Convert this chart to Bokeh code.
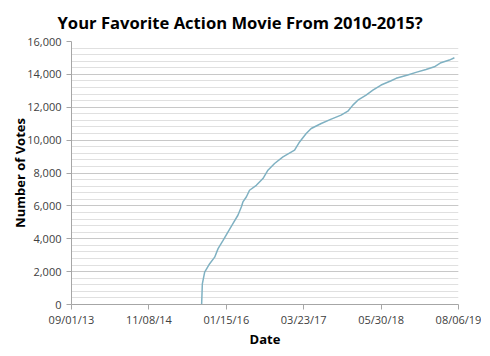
from datetime import datetime
from bokeh.plotting import figure
from bokeh.models import Range1d, FixedTicker, SingleIntervalTicker, DatetimeTickFormatter, NumeralTickFormatter, ColumnDataSource
from bokeh.embed import file_html
from bokeh.resources import INLINE

dates = ["2015-08-30", "2015-09-03", "2015-09-16", "2015-10-14", "2015-11-11", "2015-11-30",
         "2015-12-28", "2016-01-24", "2016-02-21", "2016-03-20", "2016-04-08", "2016-04-17",
         "2016-05-06", "2016-05-24", "2016-07-01", "2016-08-07", "2016-09-04", "2016-10-11",
         "2016-11-27", "2017-01-31", "2017-02-28", "2017-04-06", "2017-05-04", "2017-06-29",
         "2017-08-24", "2017-10-18", "2017-11-25", "2017-12-23", "2018-01-20", "2018-03-07",
         "2018-04-14", "2018-05-30", "2018-07-25", "2018-08-22", "2018-10-26", "2018-12-11",
         "2019-02-05", "2019-03-24", "2019-04-30", "2019-06-16", "2019-07-14"]
votes = [0, 1260, 1970, 2480, 2880, 3400, 3900, 4410, 4920, 5430, 5930, 6240,
         6540, 6950, 7250, 7660, 8170, 8580, 8980, 9390, 9890, 10400, 10710, 11010,
         11280, 11520, 11760, 12130, 12430, 12740, 13040, 13350, 13610, 13760, 13960, 14120,
         14300, 14460, 14710, 14870, 15010]
tick_dates = ["2013-09-01", "2014-11-08", "2016-01-15", "2017-03-23", "2018-05-30", "2019-08-06"]

def to_dt(s):
    return datetime.strptime(s, "%Y-%m-%d")

def to_ms(s):
    return (to_dt(s) - datetime(1970, 1, 1)).total_seconds() * 1000.0

src = ColumnDataSource(dict(x=[to_dt(d) for d in dates], y=votes))

p = figure(frame_width=387, frame_height=263, output_backend="svg", toolbar_location=None,
           x_axis_type="datetime",
           x_range=Range1d(to_dt(tick_dates[0]), to_dt(tick_dates[-1])),
           y_range=Range1d(0, 16000),
           min_border_left=0, min_border_right=23, min_border_top=0, min_border_bottom=0)
p.margin = (0, 0, 0, 8)

p.title.text = "Your Favorite Action Movie From 2010-2015?"
p.title.align = "left"
p.title.offset = -14
p.title.text_font = "Open Sans"
p.title.text_font_size = "16.6px"
p.title.text_font_style = "bold"
p.title.text_color = "#000000"
p.title.standoff = 16

p.line("x", "y", source=src, line_color="#7FB1C2", line_width=1.5)

p.outline_line_color = None
p.background_fill_color = "white"
p.border_fill_color = "white"

p.xgrid.grid_line_color = None
p.yaxis.ticker = SingleIntervalTicker(interval=2000, num_minor_ticks=5)
p.ygrid.grid_line_color = "#c8c8c8"
p.ygrid.minor_grid_line_color = "#e0e0e0"
p.yaxis.formatter = NumeralTickFormatter(format="0,0")

p.xaxis.ticker = FixedTicker(ticks=[to_ms(d) for d in tick_dates])
fmt = "%m/%d/%y"
p.xaxis.formatter = DatetimeTickFormatter(days=fmt, months=fmt, years=fmt, hours=fmt, minutes=fmt,
                                          seconds=fmt, milliseconds=fmt, microseconds=fmt,
                                          minsec=fmt, hourmin=fmt)

for ax in (p.xaxis[0], p.yaxis[0]):
    ax.axis_line_color = "#a6a6a6"
    ax.major_tick_line_color = "#a6a6a6"
    ax.major_tick_out = 5
    ax.major_tick_in = 0
    ax.minor_tick_line_color = None
    ax.major_label_text_font = "Open Sans"
    ax.major_label_text_font_size = "11px"
    ax.major_label_text_color = "#404040"
    ax.axis_label_text_font = "Open Sans"
    ax.axis_label_text_font_size = "13px"
    ax.axis_label_text_font_style = "bold"
    ax.axis_label_text_color = "#000000"

p.xaxis.axis_label = "Date"
p.yaxis.axis_label = "Number of Votes"
p.xaxis.major_label_standoff = 2
p.xaxis.axis_label_standoff = 0
p.yaxis.major_label_standoff = 5
p.yaxis.axis_label_standoff = -5

open("out.html", "w").write(file_html(p, INLINE))
